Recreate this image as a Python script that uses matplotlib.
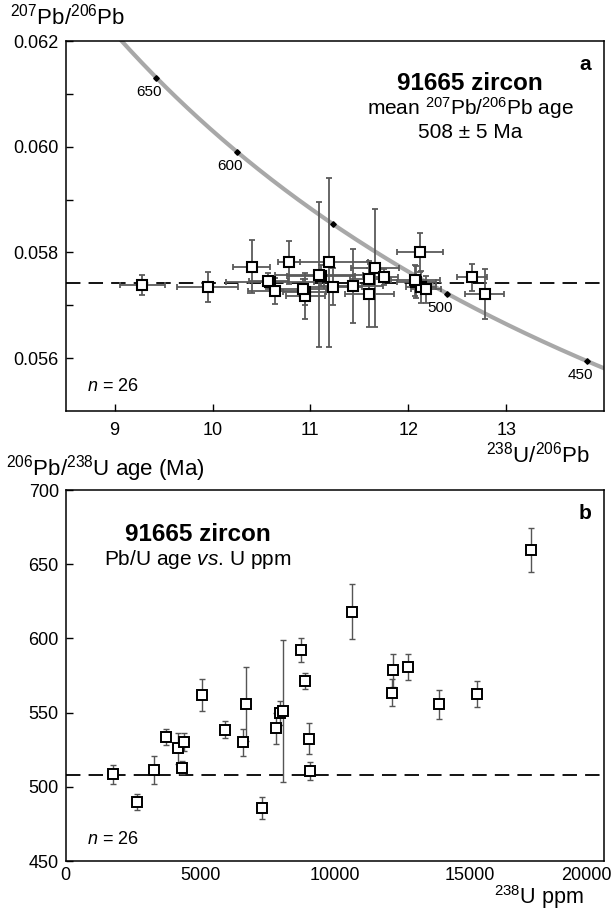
import numpy as np
import matplotlib
matplotlib.use("Agg")
import matplotlib.pyplot as plt
import matplotlib.transforms as mtransforms

plt.rcParams['font.family'] = ['Liberation Sans', 'DejaVu Sans']
plt.rcParams['mathtext.fontset'] = 'custom'
plt.rcParams['mathtext.rm'] = 'Liberation Sans'
plt.rcParams['mathtext.it'] = 'Liberation Sans:italic'
plt.rcParams['mathtext.bf'] = 'Liberation Sans:bold'

# ---------------- data: panel a (Tera-Wasserburg) ----------------
u238_pb206 = [9.28, 9.95, 10.40, 10.78, 11.19, 10.59, 10.64, 10.94, 10.95, 11.11,
              11.09, 11.23, 11.44, 11.60, 11.66, 11.75, 11.60, 12.12, 12.08, 12.13,
              12.18, 12.65, 12.78, 10.57, 10.92, 12.07]
u238_pb206_err = [0.23, 0.31, 0.19, 0.11, 0.40, 0.45, 0.28, 0.22, 0.20, 0.35,
                  0.45, 0.30, 0.30, 0.20, 0.25, 0.15, 0.25, 0.24, 0.20, 0.15,
                  0.15, 0.15, 0.20, 0.20, 0.25, 0.25]
pb207_pb206 = [0.05738, 0.05735, 0.05773, 0.05781, 0.05781, 0.05744, 0.05727, 0.05725, 0.05718, 0.05756,
               0.05758, 0.05735, 0.05737, 0.05750, 0.05770, 0.05753, 0.05721, 0.05800, 0.05744, 0.05734,
               0.05730, 0.05753, 0.05722, 0.05746, 0.05730, 0.05747]
pb207_pb206_err = [0.00019, 0.00028, 0.00050, 0.00041, 0.00160, 0.00012, 0.00025, 0.00025, 0.00043, 0.00020,
                   0.00137, 0.00035, 0.00070, 0.00020, 0.00112, 0.00015, 0.00063, 0.00037, 0.00030, 0.00030,
                   0.00025, 0.00026, 0.00047, 0.00015, 0.00020, 0.00030]

mean_age = 508  # Ma
concordia_marks = [450, 500, 550, 600, 650]
concordia_labels = [450, 500, 600, 650]
lam238 = 1.55125e-10
lam235 = 9.8485e-10
u_ratio = 137.88

# ---------------- data: panel b ----------------
u_ppm = [1740, 2660, 3290, 3730, 4160, 4320, 4410, 5050, 5920, 6600,
         6690, 7300, 7830, 7970, 8060, 8760, 8880, 9045, 9085, 10620,
         12110, 12150, 12700, 13870, 15290, 17270]
age_pbu = [508.5, 490, 511.5, 533.5, 526, 513, 530, 562, 538.5, 530,
           556, 485.5, 539.5, 549.5, 551, 592, 571.5, 532.5, 510.5, 618,
           563.5, 578.5, 581, 555.5, 562.5, 659.5]
age_pbu_err = [6.3, 5.4, 9.5, 5.4, 10.5, 4.5, 6, 10.9, 5.8, 9,
               25, 7.5, 10.5, 8, 48, 8.2, 5.4, 10.3, 6, 18.5,
               9, 11, 8.7, 9.8, 8.7, 15]


def tw(t_ma):
    t = np.asarray(t_ma, dtype=float) * 1e6
    e8 = np.exp(lam238 * t) - 1
    e5 = np.exp(lam235 * t) - 1
    return 1.0 / e8, e5 / e8 / u_ratio


W, H = 614, 914
fig = plt.figure(figsize=(W / 100, H / 100), dpi=100)
fig.patch.set_facecolor('white')


def fx(px):
    return px / W


def fy(py):
    return 1 - py / H


L, R = 65.7, 604
axa = fig.add_axes([fx(L), fy(411), (R - L) / W, 370 / H])
axb = fig.add_axes([fx(L), fy(861), (R - L) / W, 371 / H])

for ax in (axa, axb):
    for s in ax.spines.values():
        s.set_linewidth(1.1)
        s.set_color('black')

# ---------- panel a ----------
axa.set_xlim(8.5, 14.0)
axa.set_ylim(0.055, 0.062)
tc = np.arange(420, 720, 1.0)
cx, cy = tw(tc)
axa.plot(cx, cy, color='#a8a8a8', lw=3.0, zorder=2, solid_capstyle='butt')
mx, my = tw(concordia_marks)
axa.plot(mx, my, 'D', color='black', ms=2.8, zorder=5)
lx, ly = tw(concordia_labels)
for a, x, y in zip(concordia_labels, lx, ly):
    axa.annotate(str(a), (x, y), xytext=(-5, -10), textcoords='offset points',
                 ha='center', va='center', fontsize=11, zorder=6)

_, mean_ratio = tw([mean_age])
axa.axhline(mean_ratio[0], color='black', lw=1.3, dashes=(8, 4.5), zorder=1)

axa.errorbar(u238_pb206, pb207_pb206, xerr=u238_pb206_err, yerr=pb207_pb206_err,
             fmt='none', ecolor='#5a5a5a', elinewidth=1.3, capsize=2.5, capthick=1.3, zorder=3)
axa.plot(u238_pb206, pb207_pb206, 's', mfc='white', mec='black', mew=1.5, ms=7, zorder=4)

axa.set_xticks([9, 10, 11, 12, 13])
axa.set_yticks(np.round(np.arange(0.056, 0.0621, 0.001), 4))
axa.set_yticklabels(['0.056', '', '0.058', '', '0.060', '', '0.062'])
axa.tick_params(axis='both', direction='in', length=5, width=1, labelsize=13)
axa.tick_params(axis='x', pad=8)
axa.tick_params(axis='y', pad=5)

axa.text(0.751, 0.885, '91665 zircon', transform=axa.transAxes, ha='center', va='center',
         fontsize=17.5, fontweight='bold')
axa.text(0.751, 0.818, r'mean $^{207}$Pb/$^{206}$Pb age', transform=axa.transAxes,
         ha='center', va='center', fontsize=15)
axa.text(0.751, 0.752, '508 ± 5 Ma', transform=axa.transAxes, ha='center', va='center', fontsize=15)
axa.text(0.965, 0.937, 'a', transform=axa.transAxes, ha='center', va='center',
         fontsize=15, fontweight='bold')
axa.text(0.04, 0.066, r'$\it{n}$ = 26', transform=axa.transAxes, ha='left', va='center', fontsize=13)

fig.text(fx(10), fy(17), r'$^{207}$Pb/$^{206}$Pb', ha='left', va='center', fontsize=16)
fig.text(fx(590), fy(455), r'$^{238}$U/$^{206}$Pb', ha='right', va='center', fontsize=16)

# ---------- panel b ----------
axb.set_xlim(0, 20000)
axb.set_ylim(450, 700)
axb.axhline(mean_age, color='black', lw=1.3, dashes=(8, 4.5), zorder=1)
axb.errorbar(u_ppm, age_pbu, yerr=age_pbu_err, fmt='none', ecolor='#555555',
             elinewidth=1.0, capsize=2, capthick=1.0, zorder=3)
axb.plot(u_ppm, age_pbu, 's', mfc='white', mec='black', mew=1.4, ms=7, zorder=4)
axb.set_xticks([0, 5000, 10000, 15000, 20000])
axb.set_yticks([450, 500, 550, 600, 650, 700])
axb.tick_params(axis='y', direction='in', length=5, width=1, labelsize=13, pad=5)
axb.tick_params(axis='x', direction='in', length=0, labelsize=13, pad=4)
last = axb.get_xticklabels()[-1]
last.set_horizontalalignment('right')
last.set_transform(last.get_transform() + mtransforms.ScaledTranslation(8 / 100, 0, fig.dpi_scale_trans))

axb.text(0.245, 0.881, '91665 zircon', transform=axb.transAxes, ha='center', va='center',
         fontsize=17.5, fontweight='bold')
axb.text(0.245, 0.814, r'Pb/U age $\it{vs}$. U ppm', transform=axb.transAxes,
         ha='center', va='center', fontsize=15)
axb.text(0.965, 0.937, 'b', transform=axb.transAxes, ha='center', va='center',
         fontsize=15, fontweight='bold')
axb.text(0.04, 0.057, r'$\it{n}$ = 26', transform=axb.transAxes, ha='left', va='center', fontsize=13)

fig.text(fx(6), fy(469), r'$^{206}$Pb/$^{238}$U age (Ma)', ha='left', va='center', fontsize=16)
fig.text(fx(584), fy(897), r'$^{238}$U ppm', ha='right', va='center', fontsize=15.5)

fig.savefig('out.png', dpi=100, facecolor='white')
